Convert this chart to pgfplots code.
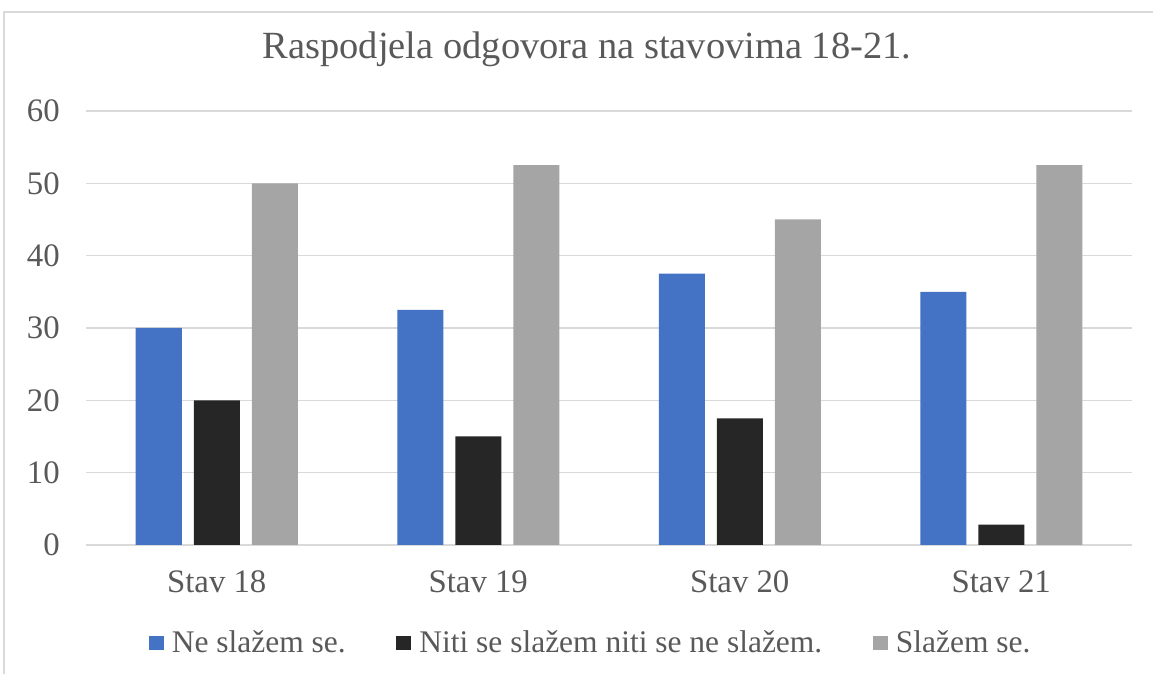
\documentclass[border=0pt]{standalone}
\usepackage{pgfplots}
\pgfplotsset{compat=1.18}
\usepackage{fontspec}
\setmainfont{Liberation Serif}
\definecolor{cBlue}{HTML}{4472C4}
\definecolor{cBlack}{HTML}{262626}
\definecolor{cGray}{HTML}{A5A5A5}
\definecolor{cGrid}{HTML}{D9D9D9}
\definecolor{cText}{HTML}{595959}
\begin{document}
\begin{tikzpicture}
\path[use as bounding box] (-64.5pt,-96.75pt) rectangle (800.25pt,408.75pt);
\draw[cGrid, line width=1.2pt] (-61.5pt,-96.75pt) -- (-61.5pt,399.75pt) -- (800.25pt,399.75pt);
\begin{axis}[
  at={(0pt,0pt)}, anchor=south west,
  scale only axis,
  width=784.5pt, height=325.5pt,
  xmin=-0.5, xmax=3.5, ymin=0, ymax=60,
  ybar=9pt, bar width=34.5pt,
  xtick=data,
  xticklabels={Stav 18, Stav 19, Stav 20, Stav 21},
  ytick={0,10,...,60},
  ymajorgrids, grid style={cGrid, line width=1pt},
  axis line style={draw=none},
  major tick length=0pt,
  /pgf/number format/assume math mode=true,
  tick label style={font=\fontsize{24.6}{30}\selectfont, text=cText, inner sep=0pt},
  xticklabel style={anchor=base, yshift=-35.25pt},
  yticklabel style={anchor=east, xshift=-19.5pt},
  title={Raspodjela odgovora na stavovima 18-21.},
  title style={at={(0.479,1.124)}, anchor=center, font=\fontsize{28.85}{34}\selectfont, text=cText},
  legend columns=-1,
  legend style={at={(0.4828,-0.2258)}, anchor=center, draw=none, fill=none,
    font=\fontsize{23.6}{28}\selectfont, text=cText,
    /tikz/every even column/.append style={column sep=36pt},
    nodes={inner sep=2pt},
    /tikz/every odd column/.append style={column sep=4pt}},
  legend image code/.code={\fill[#1, draw=none] (0pt,-5.6pt) rectangle (11.25pt,5.6pt);},
]
\addplot[fill=cBlue, draw=none] coordinates {(0,30) (1,32.5) (2,37.5) (3,35)};
\addplot[fill=cBlack, draw=none] coordinates {(0,20) (1,15) (2,17.5) (3,2.8)};
\addplot[fill=cGray, draw=none] coordinates {(0,50) (1,52.5) (2,45) (3,52.5)};
\legend{Ne slažem se., Niti se slažem niti se ne slažem., Slažem se.}
\end{axis}
\end{tikzpicture}
\end{document}
